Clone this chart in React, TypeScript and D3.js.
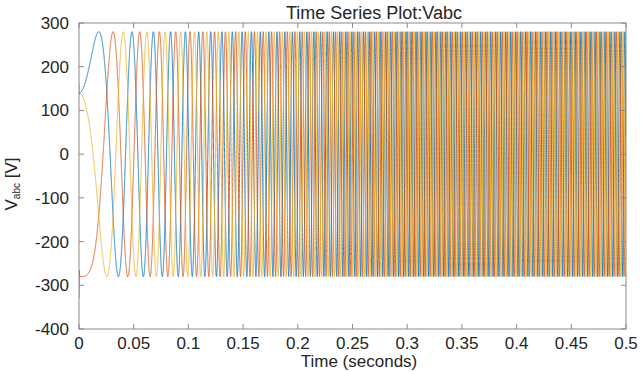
import { useMemo } from 'react';
import * as d3 from 'd3';

const freqTimes = [0, 0.01, 0.02, 0.03, 0.04, 0.058, 0.075, 0.1, 0.125, 0.15, 0.2, 0.3, 0.5];
const freqHz = [0, 10, 21, 31, 39, 51, 63, 80, 98, 115, 150, 220, 220];

// start-up transient at t = 0 (first few samples)
const startTimes = [0, 0.0003];
const startA = [136, 140];
const startB = [-330, -265];
const startC = [165, 148];

const amplitude = 280;
const phaseNames = ['Va', 'Vb', 'Vc'];
const phaseShiftDeg = [30, -90, 150];
const phaseColors = ['#0072BD', '#D95319', '#EDB120'];

const xTicks = [0, 0.05, 0.1, 0.15, 0.2, 0.25, 0.3, 0.35, 0.4, 0.45, 0.5];
const yTicks = [-400, -300, -200, -100, 0, 100, 200, 300];

const W = 641;
const H = 372;
const margin = { top: 23, right: 15, bottom: 43, left: 79 };

const App = () => {
  const innerW = W - margin.left - margin.right;
  const innerH = H - margin.top - margin.bottom;

  const x = d3.scaleLinear().domain([0, 0.5]).range([0, innerW]);
  const y = d3.scaleLinear().domain([-400, 300]).range([innerH, 0]);

  const paths = useMemo(() => {
    const f = d3.scaleLinear().domain(freqTimes).range(freqHz).clamp(true);
    const dt = 1.5e-5;
    const t0 = 0.0006;
    // phase from the frequency profile
    const samples: { t: number; phi: number }[] = [];
    let phi = 0;
    let prevF = f(0);
    for (let t = 0; t <= 0.5 + 1e-9; t += dt) {
      const cur = f(t);
      if (t > 0) phi += Math.PI * (cur + prevF) * dt;
      prevF = cur;
      if (t >= t0) samples.push({ t, phi });
    }
    const starts = [startA, startB, startC];
    const line = d3.line<[number, number]>()
      .x(d => x(d[0]))
      .y(d => y(d[1]));
    return phaseShiftDeg.map((shift, i) => {
      const rad = (shift * Math.PI) / 180;
      const pts: [number, number][] = startTimes.map((t, k) => [t, starts[i][k]]);
      samples.forEach(s => pts.push([s.t, amplitude * Math.sin(s.phi + rad)]));
      return line(pts) || '';
    });
  }, []);

  const font = '"Liberation Sans", Arial, sans-serif';
  const axisColor = '#8a8a8a';
  const textColor = '#262626';

  return (
    <svg width={W} height={H} style={{ position: 'absolute', left: 0, top: 0, background: '#fff' }}>
      <defs>
        <clipPath id="plot-clip">
          <rect x={0} y={0} width={innerW} height={innerH} />
        </clipPath>
      </defs>
      <g transform={`translate(${margin.left},${margin.top})`}>
        <g clipPath="url(#plot-clip)">
          {paths.map((p, i) => (
            <path key={phaseNames[i]} d={p} fill="none" stroke={phaseColors[i]} strokeWidth={0.9} />
          ))}
        </g>
        {/* box */}
        <rect x={0} y={0} width={innerW} height={innerH} fill="none" stroke={axisColor} strokeWidth={1} />
        {xTicks.map(t => (
          <g key={`x${t}`}>
            <line x1={x(t)} x2={x(t)} y1={innerH} y2={innerH - 5} stroke={axisColor} />
            <line x1={x(t)} x2={x(t)} y1={0} y2={5} stroke={axisColor} />
            <text x={x(t)} y={innerH + 20} textAnchor="middle" fontFamily={font} fontSize={17} fill={textColor}>
              {t}
            </text>
          </g>
        ))}
        {yTicks.map(v => (
          <g key={`y${v}`}>
            <line x1={0} x2={5} y1={y(v)} y2={y(v)} stroke={axisColor} />
            <line x1={innerW} x2={innerW - 5} y1={y(v)} y2={y(v)} stroke={axisColor} />
            <text x={-10} y={y(v)} dy="0.35em" textAnchor="end" fontFamily={font} fontSize={17} fill={textColor}>
              {v}
            </text>
          </g>
        ))}
        <text x={295} y={-4} textAnchor="middle" fontFamily={font} fontSize={18} fill={textColor}>
          Time Series Plot:Vabc
        </text>
        <text x={280} y={innerH + 38} textAnchor="middle" fontFamily={font} fontSize={17} fill={textColor}>
          Time (seconds)
        </text>
        <text
          transform={`translate(-62,${innerH / 2 + 8}) rotate(-90)`}
          textAnchor="middle"
          fontFamily={font}
          fontSize={17}
          fill={textColor}
        >
          V<tspan fontSize={10} dy={3}>abc</tspan>
          <tspan dy={-3}> [V]</tspan>
        </text>
      </g>
    </svg>
  );
};

export default App;
